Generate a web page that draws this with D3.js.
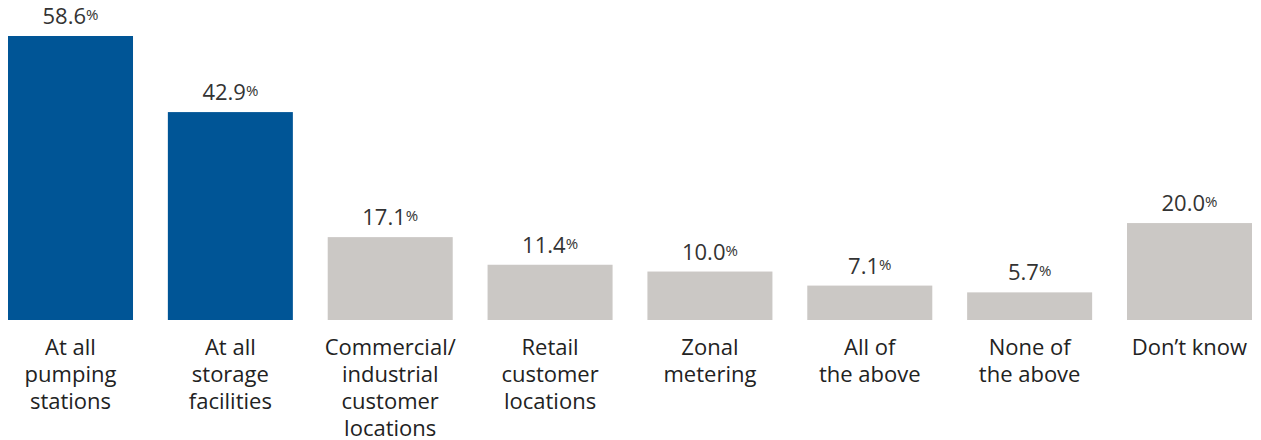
<!DOCTYPE html>
<html>
<head>
<meta charset="utf-8">
<script src="https://cdn.jsdelivr.net/npm/d3@7"></script>
<style>
	body { margin: 0; background: #fff; }
	svg { display: block; font-family: "Open Sans", sans-serif; }
</style>
</head>
<body>
<div id="chart"></div>
<script>
const categories = [
	['At all', 'pumping', 'stations'],
	['At all', 'storage', 'facilities'],
	['Commercial/', 'industrial', 'customer', 'locations'],
	['Retail', 'customer', 'locations'],
	['Zonal', 'metering'],
	['All of', 'the above'],
	['None of', 'the above'],
	['Don\u2019t know']
];
const values = [58.6, 42.9, 17.1, 11.4, 10.0, 7.1, 5.7, 20.0];
const highlighted = [true, true, false, false, false, false, false, false];

const width = 1261;
const height = 440;
const baseline = 320;

const svg = d3.select('#chart')
	.append('svg')
	.attr('width', width)
	.attr('height', height);

const x = d3.scaleBand()
	.domain(d3.range(values.length))
	.range([8, 1252])
	.paddingInner(0.218)
	.paddingOuter(0);

const y = d3.scaleLinear()
	.domain([0, 58.6])
	.range([baseline, 36]);

const bar = svg.selectAll('g.bar')
	.data(values)
	.enter()
	.append('g')
	.attr('class', 'bar')
	.attr('transform', (d, i) => `translate(${x(i)},0)`);

bar.append('rect')
	.attr('x', 0)
	.attr('y', d => y(d))
	.attr('width', x.bandwidth())
	.attr('height', d => baseline - y(d))
	.attr('fill', (d, i) => highlighted[i] ? '#005596' : '#cbc8c5');

// value labels, the % sign is set smaller and raised
const label = bar.append('text')
	.attr('x', x.bandwidth() / 2)
	.attr('y', d => y(d) - 12)
	.attr('text-anchor', 'middle')
	.attr('fill', '#333')
	.style('font-size', '22px');

label.append('tspan')
	.text(d => d.toFixed(1));

label.append('tspan')
	.attr('dy', -4)
	.style('font-size', '15px')
	.text('%');

// category labels
bar.append('text')
	.attr('text-anchor', 'middle')
	.attr('fill', '#222')
	.style('font-size', '22px')
	.selectAll('tspan')
	.data((d, i) => categories[i])
	.enter()
	.append('tspan')
	.attr('x', x.bandwidth() / 2)
	.attr('y', (d, i) => 355 + i * 27)
	.text(d => d);
</script>
</body>
</html>
